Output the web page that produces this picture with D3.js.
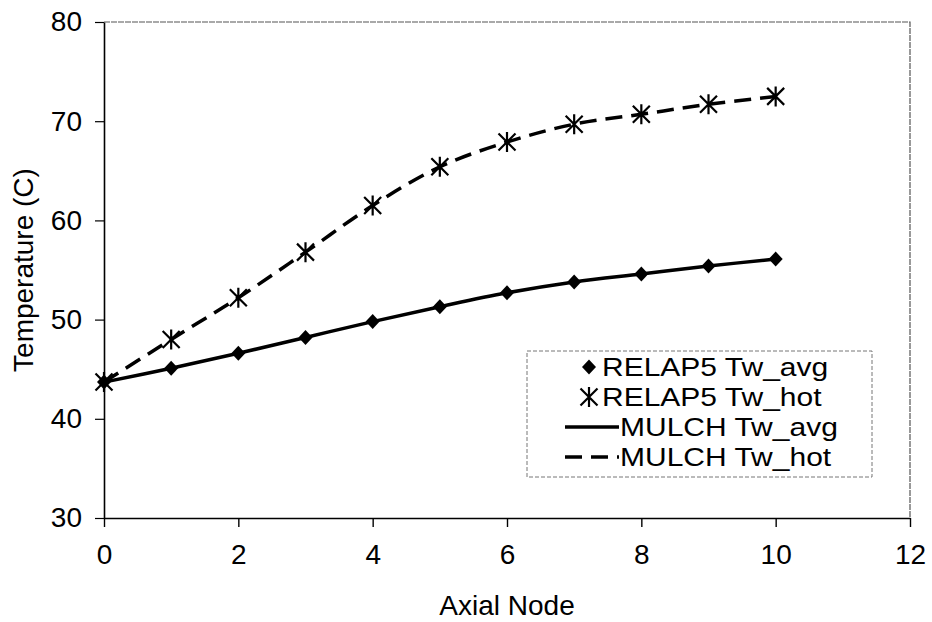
<!DOCTYPE html>
<html lang="en">
<head>
    <meta charset="utf-8">
    <script src="https://d3js.org/d3.v7.min.js"></script>
    <style type="text/css">
        body {
            margin: 0;
            background: white;
            overflow: hidden;
        }
        text {
            font-family: "Liberation Sans", Arial, sans-serif;
            fill: black;
        }
    </style>
</head>
<body>
<svg id="chart"></svg>
<script type="text/javascript">
    // Axial node positions and wall temperatures (C)
    var nodes = [0, 1, 2, 3, 4, 5, 6, 7, 8, 9, 10];
    var relapAvg = [43.7, 45.1, 46.6, 48.2, 49.8, 51.3, 52.7, 53.8, 54.6, 55.4, 56.1];
    var relapHot = [43.7, 48.0, 52.2, 56.8, 61.5, 65.4, 67.9, 69.7, 70.7, 71.7, 72.5];
    var mulchAvg = [43.7, 45.1, 46.6, 48.2, 49.8, 51.3, 52.7, 53.8, 54.6, 55.4, 56.1];
    var mulchHot = [43.7, 48.0, 52.2, 56.8, 61.5, 65.4, 67.9, 69.7, 70.7, 71.7, 72.5];

    var xTicks = [0, 2, 4, 6, 8, 10, 12];
    var yTicks = [30, 40, 50, 60, 70, 80];
    var legendLabels = ["RELAP5 Tw_avg", "RELAP5 Tw_hot", "MULCH Tw_avg", "MULCH Tw_hot"];

    var width = 932;
    var height = 622;
    var margin = {top: 22, right: 22, bottom: 104, left: 104};
    var plotW = width - margin.left - margin.right;
    var plotH = height - margin.top - margin.bottom;

    var svg = d3.select("#chart")
        .attr("width", width)
        .attr("height", height);

    var g = svg.append("g")
        .attr("transform", "translate(" + margin.left + "," + margin.top + ")");

    var x = d3.scaleLinear().domain([0, 12]).range([0, plotW]);
    var y = d3.scaleLinear().domain([30, 80]).range([plotH, 0]);

    // plot area border (top and right are light dotted)
    g.append("path")
        .attr("d", "M0,0H" + plotW + "V" + plotH)
        .attr("fill", "none")
        .attr("stroke", "#555")
        .attr("stroke-width", 1.2)
        .attr("stroke-dasharray", "6,1");

    // axes
    var xAxis = g.append("g")
        .attr("transform", "translate(0," + plotH + ")")
        .call(d3.axisBottom(x).tickValues(xTicks).tickSize(9).tickPadding(17).tickSizeOuter(0));
    xAxis.select(".domain").attr("stroke-width", 1.6);
    xAxis.selectAll(".tick line").attr("stroke-width", 1.4);
    xAxis.selectAll("text")
        .style("font-size", "28px")
        .style("font-family", "'Liberation Sans', Arial, sans-serif");

    var yAxis = g.append("g")
        .call(d3.axisLeft(y).tickValues(yTicks).tickSize(9).tickPadding(13).tickSizeOuter(0));
    yAxis.select(".domain").attr("stroke-width", 1.6);
    yAxis.selectAll(".tick line").attr("stroke-width", 1.2);
    yAxis.selectAll("text")
        .style("font-size", "28px")
        .style("font-family", "'Liberation Sans', Arial, sans-serif");

    // axis titles
    svg.append("text")
        .attr("x", margin.left + plotW / 2)
        .attr("y", 615)
        .attr("text-anchor", "middle")
        .style("font-size", "28px")
        .text("Axial Node");

    svg.append("text")
        .attr("transform", "translate(33," + (margin.top + plotH / 2) + ") rotate(-90)")
        .attr("text-anchor", "middle")
        .style("font-size", "28px")
        .text("Temperature (C)");

    function toPoints(vals) {
        return nodes.map(function(n, i) { return [n, vals[i]]; });
    }

    var line = d3.line()
        .x(function(d) { return x(d[0]); })
        .y(function(d) { return y(d[1]); })
        .curve(d3.curveCatmullRom);

    // MULCH curves
    g.append("path")
        .datum(toPoints(mulchAvg))
        .attr("d", line)
        .attr("fill", "none")
        .attr("stroke", "black")
        .attr("stroke-width", 3.5);

    g.append("path")
        .datum(toPoints(mulchHot))
        .attr("d", line)
        .attr("fill", "none")
        .attr("stroke", "black")
        .attr("stroke-width", 3.5)
        .attr("stroke-dasharray", "17,9");

    // RELAP5 markers
    var diamond = "M0,-7.5L7,0L0,7.5L-7,0Z";
    var star = "M0,-10V10M-8.5,-8.5L8.5,8.5M-8.5,8.5L8.5,-8.5";

    g.selectAll(".avg-pt")
        .data(toPoints(relapAvg))
        .join("path")
        .attr("class", "avg-pt")
        .attr("transform", function(d) { return "translate(" + x(d[0]) + "," + y(d[1]) + ")"; })
        .attr("d", diamond)
        .attr("fill", "black");

    g.selectAll(".hot-pt")
        .data(toPoints(relapHot))
        .join("path")
        .attr("class", "hot-pt")
        .attr("transform", function(d) { return "translate(" + x(d[0]) + "," + y(d[1]) + ")"; })
        .attr("d", star)
        .attr("fill", "none")
        .attr("stroke", "black")
        .attr("stroke-width", 2.2);

    // legend
    var legend = svg.append("g").attr("transform", "translate(527,351)");
    legend.append("rect")
        .attr("width", 345)
        .attr("height", 126)
        .attr("fill", "white")
        .attr("stroke", "#777")
        .attr("stroke-width", 1)
        .attr("stroke-dasharray", "4,2");

    var rowY = function(i) { return 16 + i * 30; };

    legend.append("path")
        .attr("transform", "translate(62," + rowY(0) + ")")
        .attr("d", diamond)
        .attr("fill", "black");
    legend.append("path")
        .attr("transform", "translate(62," + rowY(1) + ")")
        .attr("d", star)
        .attr("fill", "none")
        .attr("stroke", "black")
        .attr("stroke-width", 2.2);
    legend.append("line")
        .attr("x1", 38).attr("x2", 92)
        .attr("y1", rowY(2)).attr("y2", rowY(2))
        .attr("stroke", "black")
        .attr("stroke-width", 3.5);
    legend.append("line")
        .attr("x1", 38).attr("x2", 92)
        .attr("y1", rowY(3)).attr("y2", rowY(3))
        .attr("stroke", "black")
        .attr("stroke-width", 3.5)
        .attr("stroke-dasharray", "17,9");

    var textX = [75, 75, 93, 93];
    legend.selectAll(".lbl")
        .data(legendLabels)
        .join("text")
        .attr("class", "lbl")
        .attr("transform", function(d, i) { return "translate(" + textX[i] + "," + (rowY(i) + 9) + ") scale(1.2,1)"; })
        .style("font-size", "25px")
        .text(function(d) { return d; });
</script>
</body>
</html>
